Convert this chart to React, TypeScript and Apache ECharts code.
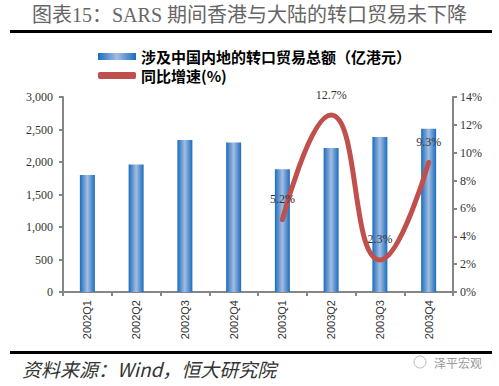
import React, { useEffect, useRef } from "react";
import * as echarts from "echarts";

const categories = ["2002Q1", "2002Q2", "2002Q3", "2002Q4", "2003Q1", "2003Q2", "2003Q3", "2003Q4"];
const tradeValues = [1800, 1960, 2340, 2300, 1890, 2215, 2385, 2510];
const growthValues: (number | null)[] = [null, null, null, null, 5.2, 12.7, 2.3, 9.3];
const barName = "涉及中国内地的转口贸易总额（亿港元）";
const lineName = "同比增速(%)";
const titleText = "图表15：SARS 期间香港与大陆的转口贸易未下降";
const sourceText = "资料来源：Wind，恒大研究院";
const watermark = "泽平宏观";

const serif = '"Liberation Serif", "Times New Roman", "Noto Sans CJK SC", serif';
const cjk = '"Noto Sans CJK SC", sans-serif';

export default function App() {
  const ref = useRef<HTMLDivElement>(null);
  useEffect(() => {
    if (!ref.current) return;
    const chart = echarts.init(ref.current, null, { renderer: "svg" });
    const axisLineStyle = { color: "#868686", width: 2 };
    chart.setOption({
      animation: false,
      backgroundColor: "#fff",
      grid: { left: 63, right: 46, top: 97, bottom: 94 },
      legend: {
        orient: "vertical",
        left: 93,
        top: 44,
        itemWidth: 38,
        itemHeight: 7,
        itemGap: 4,
        textStyle: { fontFamily: cjk, fontWeight: "bold", fontSize: 15, lineHeight: 15, color: "#000" },
        data: [
          { name: barName, icon: "rect" },
          { name: lineName, icon: "roundRect" },
        ],
      },
      xAxis: {
        type: "category",
        data: categories,
        axisLine: { lineStyle: axisLineStyle },
        axisTick: { show: true, length: 4, lineStyle: axisLineStyle },
        axisLabel: {
          rotate: 90,
          margin: 8,
          fontFamily: '"Liberation Sans", Arial, sans-serif',
          fontSize: 11,
          color: "#333",
        },
      },
      yAxis: [
        {
          type: "value",
          min: 0,
          max: 3000,
          interval: 500,
          splitLine: { show: false },
          axisLine: { show: true, lineStyle: axisLineStyle },
          axisTick: { show: true, length: 4, lineStyle: axisLineStyle },
          axisLabel: {
            margin: 10,
            fontFamily: serif,
            fontSize: 12,
            color: "#333",
            formatter: (v: number) => v.toLocaleString("en-US"),
          },
        },
        {
          type: "value",
          min: 0,
          max: 14,
          interval: 2,
          splitLine: { show: false },
          axisLine: { show: true, lineStyle: axisLineStyle },
          axisTick: { show: true, length: 4, lineStyle: axisLineStyle },
          axisLabel: {
            margin: 7,
            fontFamily: serif,
            fontSize: 12,
            color: "#333",
            formatter: "{value}%",
          },
        },
      ],
      series: [
        {
          name: barName,
          type: "bar",
          data: tradeValues,
          barWidth: 15,
          itemStyle: {
            color: new echarts.graphic.LinearGradient(0, 0, 1, 0, [
              { offset: 0, color: "#1A6CC0" },
              { offset: 0.5, color: "#A4BDE0" },
              { offset: 1, color: "#1A6CC0" },
            ]),
          },
        },
        {
          name: lineName,
          type: "line",
          yAxisIndex: 1,
          data: growthValues,
          smooth: true,
          symbol: "circle",
          symbolSize: 1,
          itemStyle: { color: "#C0504D" },
          lineStyle: { color: "#C0504D", width: 5, cap: "round" },
          label: {
            show: true,
            position: "top",
            distance: 14,
            formatter: "{c}%",
            fontFamily: serif,
            fontSize: 12,
            color: "#333",
          },
        },
      ],
      graphic: [
        {
          type: "text",
          left: "center",
          top: 5,
          style: { text: titleText, font: `20px ${serif}`, fill: "#666" },
        },
        { type: "rect", shape: { x: 10, y: 30, width: 482, height: 3 }, style: { fill: "#000" } },
        { type: "rect", shape: { x: 10, y: 351, width: 482, height: 3 }, style: { fill: "#000" } },
        {
          type: "text",
          left: 22,
          top: 359,
          style: { text: sourceText, font: `italic 19px ${cjk}`, fill: "#333" },
        },
        {
          type: "circle",
          shape: { cx: 420, cy: 362, r: 6 },
          style: { fill: "none", stroke: "#bbb", lineWidth: 1 },
        },
        {
          type: "text",
          left: 434,
          top: 356,
          style: { text: watermark, font: `12px ${cjk}`, fill: "#999" },
        },
      ],
    });
    return () => chart.dispose();
  }, []);
  return <div ref={ref} style={{ width: 499, height: 386, position: "absolute", left: 0, top: 0 }} />;
}
